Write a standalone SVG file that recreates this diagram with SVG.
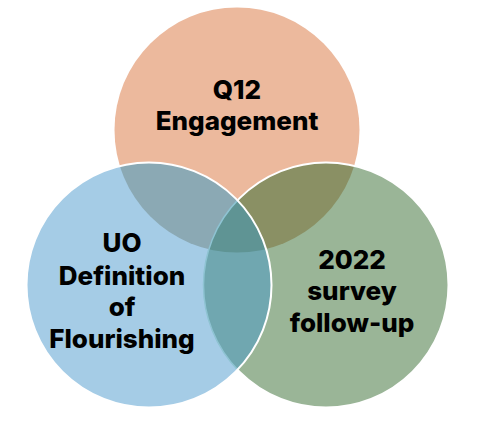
<svg xmlns="http://www.w3.org/2000/svg" width="480" height="423" viewBox="0 0 480 423">
  <defs>
    <clipPath id="cTop"><circle cx="237" cy="130" r="122.5"/></clipPath>
    <clipPath id="cLeft"><circle cx="149" cy="285" r="122.5"/></clipPath>
    <clipPath id="cRight"><circle cx="326" cy="285" r="122.5"/></clipPath>
  </defs>
  <style>
    .lbl { font-family: Inter, "Liberation Sans", sans-serif; font-weight: 800; font-size: 26px; fill: #000; text-anchor: middle; }
  </style>
  <rect width="480" height="423" fill="#ffffff"/>
  <g id="circle-q12">
    <circle cx="237" cy="130" r="122.5" fill="#ecb99d"/>
  </g>
  <g id="circle-survey">
    <circle cx="326" cy="285" r="122.5" fill="#9ab597"/>
    <circle cx="326" cy="285" r="122.5" fill="#8a9064" clip-path="url(#cTop)"/>
    <circle cx="326" cy="285" r="122.5" fill="none" stroke="#ffffff" stroke-width="2"/>
  </g>
  <g id="circle-uo">
    <circle cx="149" cy="285" r="122.5" fill="#a5cce6"/>
    <g clip-path="url(#cLeft)">
      <circle cx="237" cy="130" r="122.5" fill="#8ba9b4"/>
      <circle cx="326" cy="285" r="122.5" fill="#70a7b0"/>
      <g clip-path="url(#cTop)">
        <circle cx="326" cy="285" r="122.5" fill="#5f9494"/>
      </g>
      <circle cx="326" cy="285" r="122.5" fill="none" stroke="#8ec3d2" stroke-width="1.5"/>
    </g>
    <circle cx="149" cy="285" r="122.5" fill="none" stroke="#ffffff" stroke-width="2"/>
  </g>
  <g id="labels">
    <text class="lbl" x="237" y="99">Q12</text>
    <text class="lbl" x="237" y="130">Engagement</text>
    <text class="lbl" x="122" y="252">UO</text>
    <text class="lbl" x="122" y="285">Definition</text>
    <text class="lbl" x="122" y="316">of</text>
    <text class="lbl" x="122" y="348">Flourishing</text>
    <text class="lbl" x="352" y="269">2022</text>
    <text class="lbl" x="352" y="300">survey</text>
    <text class="lbl" x="352" y="332">follow-up</text>
  </g>
  <g id="connectors"></g>
</svg>
